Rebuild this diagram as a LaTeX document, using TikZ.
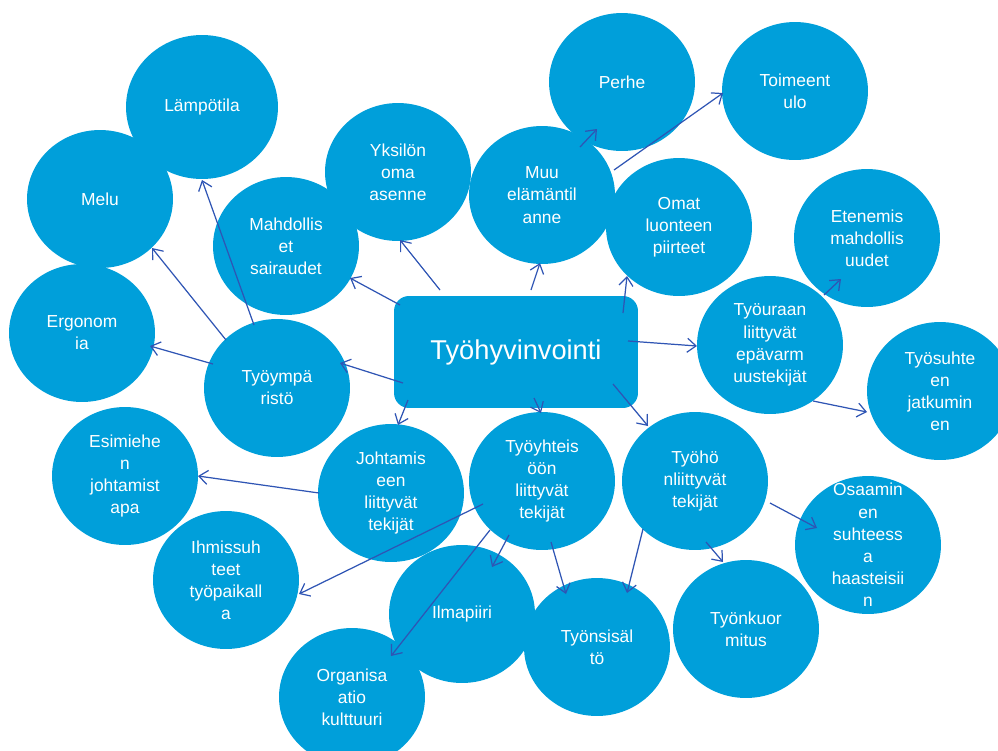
\documentclass[tikz,border=0pt]{standalone}
\usepackage{fontspec}
\setmainfont{Liberation Sans}
\usepackage{tikz}
\usetikzlibrary{positioning}
\usetikzlibrary{shapes,calc,arrows.meta}
\definecolor{pallosin}{RGB}{0,159,218}
\definecolor{nuolisin}{RGB}{47,85,180}
\tikzset{
	pallo/.style = {ellipse, fill=pallosin, text=white, inner sep=0pt, outer sep=0pt,
		minimum width=2.92cm, minimum height=2.76cm, align=center,
		font=\fontsize{9.9}{12.6}\selectfont},
	keski/.style = {rectangle, rounded corners=0.3cm, fill=pallosin, text=white,
		minimum width=4.88cm, minimum height=2.24cm,
		font=\fontsize{15.5}{18}\selectfont},
	nuoli/.style = {draw=nuolisin, line width=0.7pt,
		-{Straight Barb[length=5pt,width=8pt]}},
}
\begin{document}
\begin{tikzpicture}[x=0.02cm, y=-0.02cm]
	\useasboundingbox (0,0) rectangle (998,751);
	\node (Lampotila) at (202,107) [pallo, minimum width=3.04cm, minimum height=2.88cm] {Lämpötila};
	\node (Melu) at (100,199) [pallo] {Melu};
	\node (Ergonomia) at (82,333) [pallo] {Ergonom\\ia};
	\node (Sairaudet) at (286,246) [pallo] {Mahdollis\\et\\sairaudet};
	\node (Asenne) at (398,172) [pallo] {Yksilön\\oma\\asenne};
	\node (Elamantilanne) at (542,195) [pallo] {Muu\\elämäntil\\anne};
	\node (Perhe) at (622,82) [pallo] {Perhe};
	\node (Toimeentulo) at (795,91) [pallo] {Toimeent\\ulo};
	\node (Luonne) at (679,227) [pallo] {Omat\\luonteen\\piirteet};
	\node (Eteneminen) at (867,238) [pallo] {Etenemis\\mahdollis\\uudet};
	\node (Epavarmuus) at (770,345) [pallo] {Työuraan\\liittyvät\\epävarm\\uustekijät};
	\node (Tyosuhde) at (940,391) [pallo] {Työsuhte\\en\\jatkumin\\en};
	\node (Hyvinvointi) at (516,352) [keski] {Työhyvinvointi};
	\node (Ymparisto) at (277,388) [pallo] {Työympä\\ristö};
	\node (Esimies) at (125,476) [pallo] {Esimiehe\\n\\johtamist\\apa};
	\node (Johtaminen) at (391,493) [pallo] {Johtamis\\een\\liittyvät\\tekijät};
	\node (Tyoyhteiso) at (542,481) [pallo] {Työyhteis\\öön\\liittyvät\\tekijät};
	\node (Tyo) at (695,481) [pallo] {Työhö\\nliittyvät\\tekijät};
	\node (Osaaminen) at (868,545) [pallo, inner ysep=-0.6cm] {Osaamin\\en\\suhteess\\a\\haasteisii\\n};
	\node (Ihmissuhteet) at (226,580) [pallo] {Ihmissuh\\teet\\työpaikall\\a};
	\node (Ilmapiiri) at (462,614) [pallo] {Ilmapiiri};
	\node (Sisalto) at (597,647) [pallo] {Työnsisäl\\tö};
	\node (Kuormitus) at (746,629) [pallo] {Työnkuor\\mitus};
	\node (Kulttuuri) at (352,697) [pallo] {Organisa\\atio\\kulttuuri};
	\path ($(Hyvinvointi)+(-113,31)$) edge[nuoli] ($(Ymparisto)+(63,-25)$);
	\path ($(Ymparisto)+(-64,-24)$) edge[nuoli] ($(Ergonomia)+(68,13)$);
	\path ($(Ymparisto)+(-51,-48)$) edge[nuoli] ($(Melu)+(52,49)$);
	\path ($(Ymparisto)+(-23,-63)$) edge[nuoli] ($(Lampotila)+(0,73)$);
	\path ($(Hyvinvointi)+(-116,-47)$) edge[nuoli] ($(Sairaudet)+(64,32)$);
	\path ($(Hyvinvointi)+(-76,-62)$) edge[nuoli] ($(Asenne)+(2,68)$);
	\path ($(Hyvinvointi)+(15,-62)$) edge[nuoli] ($(Elamantilanne)+(-2,68)$);
	\path ($(Elamantilanne)+(38,-48)$) edge[nuoli] ($(Perhe)+(-25,47)$);
	\path ($(Elamantilanne)+(72,-25)$) edge[nuoli] ($(Toimeentulo)+(-72,2)$);
	\path ($(Hyvinvointi)+(107,-39)$) edge[nuoli] ($(Luonne)+(-52,49)$);
	\path ($(Epavarmuus)+(54,-50)$) edge[nuoli] ($(Eteneminen)+(-26,41)$);
	\path ($(Hyvinvointi)+(112,-11)$) edge[nuoli] ($(Epavarmuus)+(-73,1)$);
	\path ($(Epavarmuus)+(43,56)$) edge[nuoli] ($(Tyosuhde)+(-73,21)$);
	\path ($(Hyvinvointi)+(-108,48)$) edge[nuoli] ($(Johtaminen)+(7,-68)$);
	\path ($(Hyvinvointi)+(18,46)$) edge[nuoli] ($(Tyoyhteiso)+(-1,-68)$);
	\path ($(Hyvinvointi)+(97,32)$) edge[nuoli] ($(Tyo)+(-47,-55)$);
	\path ($(Johtaminen)+(-72,0)$) edge[nuoli] ($(Esimies)+(73,0)$);
	\path ($(Tyoyhteiso)+(-59,23)$) edge[nuoli] ($(Ihmissuhteet)+(73,14)$);
	\path ($(Tyoyhteiso)+(-52,49)$) edge[nuoli] ($(Kulttuuri)+(39,-41)$);
	\path ($(Tyoyhteiso)+(-33,54)$) edge[nuoli] ($(Ilmapiiri)+(30,-47)$);
	\path ($(Tyoyhteiso)+(9,61)$) edge[nuoli] ($(Sisalto)+(-31,-53)$);
	\path ($(Tyo)+(-52,48)$) edge[nuoli] ($(Sisalto)+(30,-54)$);
	\path ($(Tyo)+(11,61)$) edge[nuoli] ($(Kuormitus)+(-23,-67)$);
	\path ($(Tyo)+(75,22)$) edge[nuoli] ($(Osaaminen)+(-51,-17)$);
\end{tikzpicture}
\end{document}
